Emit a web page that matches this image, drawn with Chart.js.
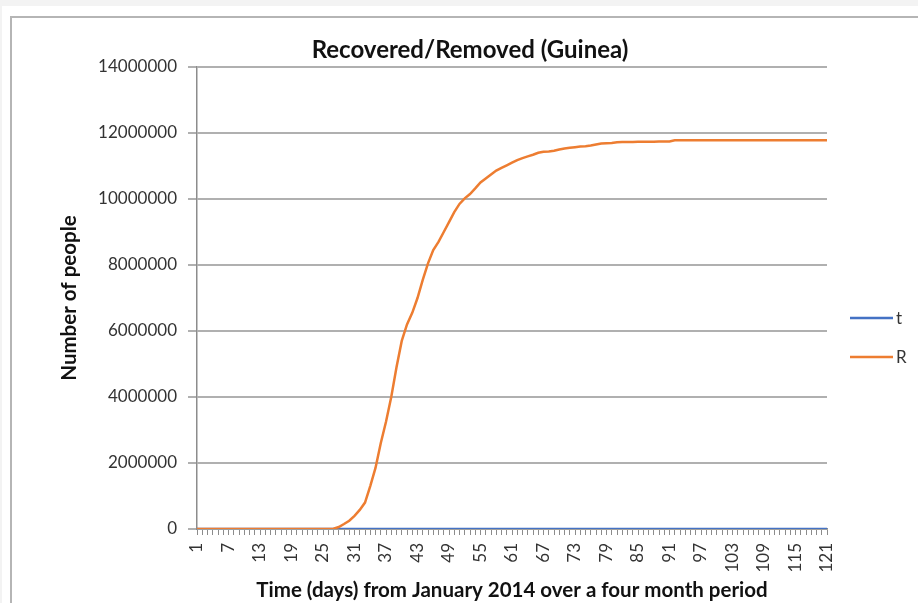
<!DOCTYPE html>
<html>
<head>
<meta charset="utf-8">
<script src="https://cdn.jsdelivr.net/npm/chart.js@4"></script>
<style>
html,body{margin:0;padding:0;background:#f3f3f3;}
#wrap{position:relative;width:918px;height:603px;overflow:hidden;}
#sheet{position:absolute;left:2px;top:6px;right:0;bottom:0;background:#fff;}
#frame{position:absolute;left:10px;top:16px;right:-10px;bottom:-10px;border-left:2px solid #b5b5b5;border-top:2px solid #b5b5b5;}
canvas{position:absolute;left:0;top:0;}
</style>
</head>
<body>
<div id="wrap"><div id="sheet"></div><div id="frame"></div><canvas id="c" width="918" height="603"></canvas></div>
<script>
// days 1..121 on the category axis
const days = Array.from({length:121}, (_, i) => String(i + 1));

// t series (sits on zero at this scale)
const tVals = [
  0,0,0,0,0,0,0,0,0,0, 0,0,0,0,0,0,0,0,0,0, 0,0,0,0,0,0,0,0,0,0,
  0,0,0,0,0,0,0,0,0,0, 0,0,0,0,0,0,0,0,0,0, 0,0,0,0,0,0,0,0,0,0,
  0,0,0,0,0,0,0,0,0,0, 0,0,0,0,0,0,0,0,0,0, 0,0,0,0,0,0,0,0,0,0,
  0,0,0,0,0,0,0,0,0,0, 0,0,0,0,0,0,0,0,0,0, 0,0,0,0,0,0,0,0,0,0,
  0
];

// R: recovered/removed
const rVals = [
  0,0,0,0,0,0,0,0,0,0, 0,0,0,0,0,0,0,0,0,0, 0,0,0,0,0,0,
  10000, 60000, 150000, 250000, 400000, 580000, 800000, 1300000, 1850000, 2600000,   // 27-36
  3250000, 4000000, 4900000, 5700000, 6200000, 6550000, 7000000, 7550000, 8050000, 8450000, // 37-46
  8700000, 9000000, 9300000, 9600000, 9850000, 10020000, 10150000, 10320000, 10500000, 10620000, // 47-56
  10740000, 10860000, 10940000, 11020000, 11100000, 11180000, 11240000, 11290000, 11340000, 11400000, // 57-66
  11430000, 11440000, 11460000, 11500000, 11530000, 11550000, 11570000, 11590000, 11600000, 11620000, // 67-76
  11650000, 11680000, 11690000, 11700000, 11720000, 11730000, 11730000, 11730000, 11735000, 11735000, // 77-86
  11735000, 11735000, 11740000, 11740000, 11740000, // 87-91
  11780000, 11780000, 11780000, 11780000, 11780000, 11780000, 11780000, 11780000, 11780000, 11780000, // 92-101
  11780000, 11780000, 11780000, 11780000, 11780000, 11780000, 11780000, 11780000, 11780000, 11780000, // 102-111
  11780000, 11780000, 11780000, 11780000, 11780000, 11780000, 11780000, 11780000, 11780000, 11780000  // 112-121
];

const yTicks = {min: 0, max: 14000000, step: 2000000};
const chartTitle = 'Recovered/Removed (Guinea)';

Chart.defaults.font.family = 'Lato, "Noto Sans", sans-serif';
Chart.defaults.color = '#333';

// title + legend drawn by hand so they sit where Excel put them
const sideLegend = {
  id: 'sideLegend',
  afterDraw(ch) {
    const c = ch.ctx;
    c.save();
    c.fillStyle = '#111';
    c.font = 'bold 24px Lato';
    c.textAlign = 'center';
    c.textBaseline = 'middle';
    c.fillText(chartTitle, 470, 50);
    c.textAlign = 'left';
    c.font = '17px Lato';
    ch.data.datasets.forEach((ds, i) => {
      const y = 318 + i * 39;
      c.strokeStyle = ds.borderColor;
      c.lineWidth = 2.5;
      c.beginPath(); c.moveTo(850, y); c.lineTo(893, y); c.stroke();
      c.fillStyle = '#333';
      c.fillText(ds.label, 896, y + 1);
    });
    c.restore();
  }
};

new Chart(document.getElementById('c'), {
  type: 'line',
  data: {
    labels: days,
    datasets: [
      {label: 't', data: tVals, borderColor: '#4472C4', borderWidth: 2.5, pointRadius: 0, tension: 0, order: 1},
      {label: 'R', data: rVals, borderColor: '#ED7D31', borderWidth: 2.5, pointRadius: 0, tension: 0, order: 0}
    ]
  },
  options: {
    responsive: false,
    animation: false,
    layout: {padding: {left: 0, right: 91, top: 67, bottom: 0}},
    plugins: {
      legend: {display: false},
      tooltip: {enabled: false},
      title: {display: false}
    },
    scales: {
      x: {
        offset: false,
        grid: {drawOnChartArea: false, drawTicks: true, tickLength: 6, color: '#8c8c8c', lineWidth: 1},
        border: {color: '#8c8c8c', width: 1.5},
        ticks: {autoSkip: false, maxRotation: 90, minRotation: 90, padding: 8, font: {size: 17},
          callback: (v, i) => (i % 6 === 0 ? days[i] : '')},
        title: {display: true, text: 'Time (days) from January 2014 over a four month period', color: '#111',
          font: {size: 20.5, weight: 'bold'}, padding: {top: 0, bottom: 0}},
        afterFit: s => { s.height = 74; }
      },
      y: {
        min: yTicks.min, max: yTicks.max,
        ticks: {stepSize: yTicks.step, padding: 11, font: {size: 17}, callback: v => String(v)},
        grid: {color: '#b0b0b0', lineWidth: 2, tickLength: 9},
        border: {color: '#8c8c8c', width: 1.5},
        title: {display: true, text: 'Number of people', color: '#111',
          font: {size: 20.5, weight: 'bold'}, padding: {top: 57}},
        afterFit: s => { s.width = 197; }
      }
    }
  },
  plugins: [sideLegend]
});
</script>
</body>
</html>
